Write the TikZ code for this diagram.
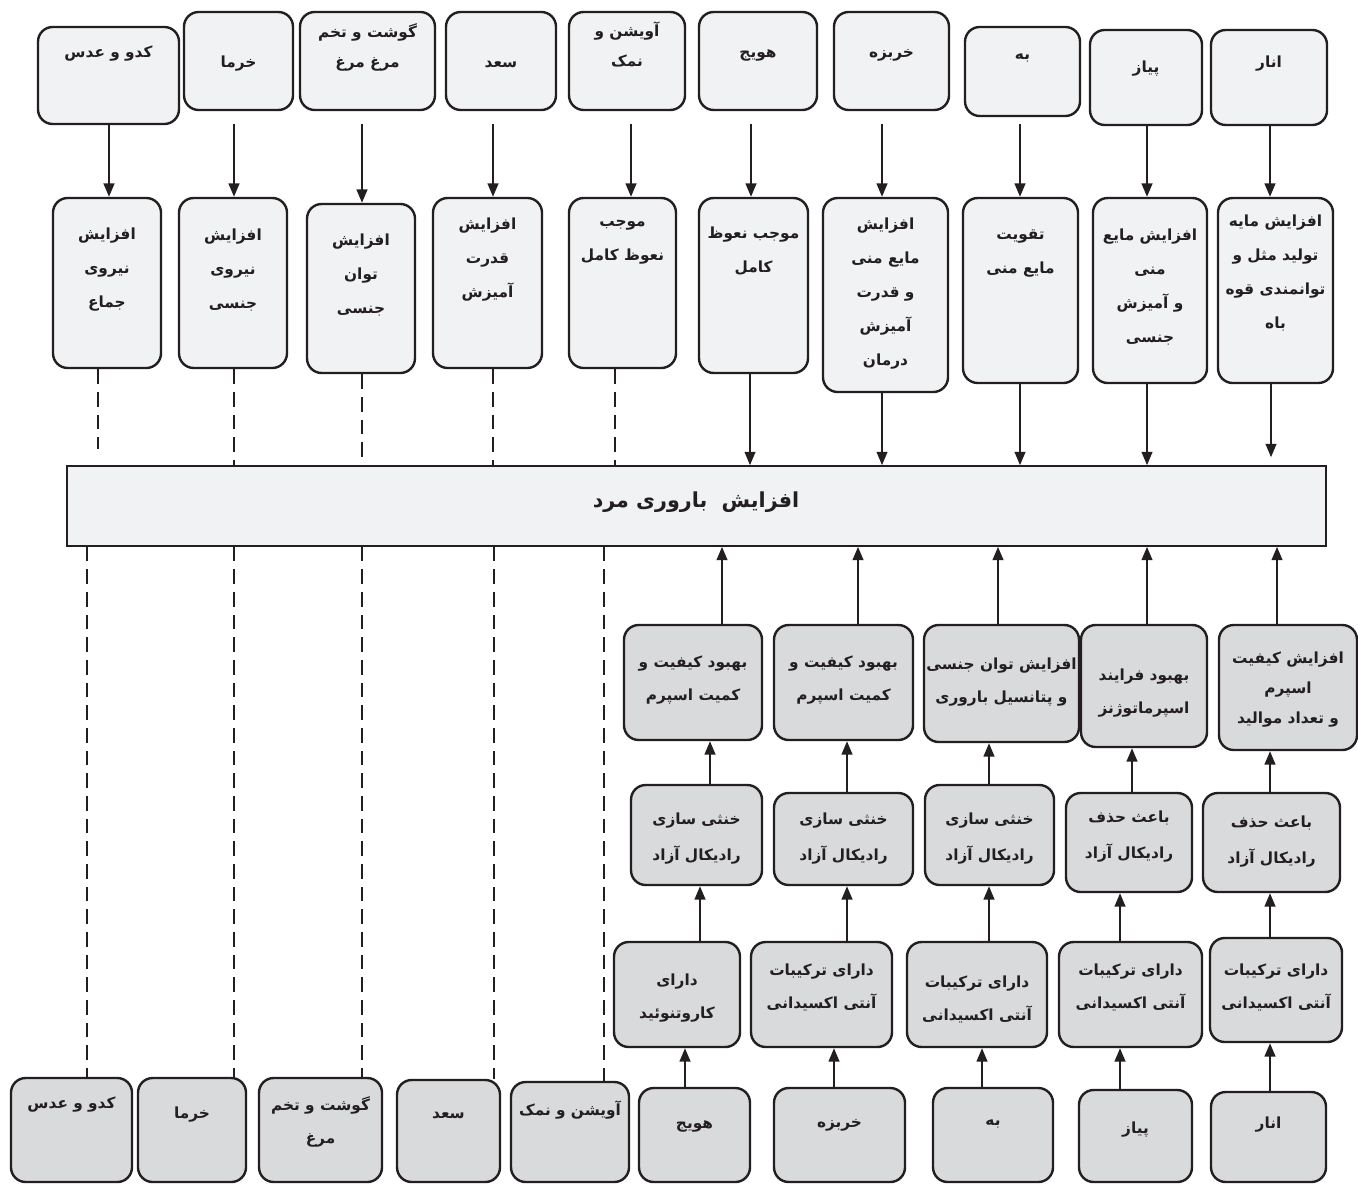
\documentclass[tikz,border=0pt]{standalone}
\usepackage{fontspec}
\newfontfamily\arabicfont[Script=Arabic]{DejaVu Sans}
\TeXXeTstate=1
\usetikzlibrary{arrows.meta,fit}
\newcommand\prs[1]{\beginR #1\endR}
\definecolor{boxlight}{HTML}{F1F2F4}
\definecolor{boxgray}{HTML}{D9DADC}
\definecolor{ink}{HTML}{231F20}
% #1 box style, #2 text style, #3 name, #4..#7 corners, #8 baseline y of last line, #9 text
\newcommand\bx[9]{%
  \node[#1, fit={(#4,#5) (#6,#7)}] (#3) {};
  \node[#2, anchor=base] (#3t) at (#3.center |- 0,#8) {#9};
}
\tikzset{
  basebox/.style={draw=ink, line width=1.8pt, rounded corners=11pt, inner sep=0pt},
  topbox/.style={basebox, fill=boxlight},
  lowbox/.style={basebox, fill=boxgray},
  bigbox/.style={draw=ink, line width=1.2pt, fill=boxlight, inner sep=0pt},
  txtbase/.style={inner sep=0pt, align=center, text=ink},
  txtT/.style={txtbase, font=\arabicfont\bfseries\fontsize{11.5pt}{22.5pt}\selectfont},
  txtM/.style={txtbase, font=\arabicfont\bfseries\fontsize{11.5pt}{25.5pt}\selectfont},
  txtL/.style={txtbase, font=\arabicfont\bfseries\fontsize{11.5pt}{24.75pt}\selectfont},
  txtR/.style={txtbase, font=\arabicfont\bfseries\fontsize{11.5pt}{27pt}\selectfont},
  txtS/.style={txtbase, font=\arabicfont\bfseries\fontsize{11.5pt}{22.5pt}\selectfont},
  txtBig/.style={txtbase, font=\arabicfont\bfseries\fontsize{15.5pt}{18pt}\selectfont},
  arr/.style={draw=ink, line width=1.5pt, -{Triangle[length=10pt,width=8pt]}},
  dsh/.style={draw=ink, line width=1.5pt, dash pattern=on 11pt off 6pt},
}
\begin{document}
\begin{tikzpicture}[x=0.75pt,y=-0.75pt]
\useasboundingbox (0,0) rectangle (1358,1184);
\clip (0,0) rectangle (1358,1184);
\fill[white] (0,0) rectangle (1358,1184);

% ---------- top row ----------
\bx{topbox}{txtT}{t1}{38}{27}{179}{124}{58}{\prs{کدو و عدس}}
\bx{topbox}{txtT}{t2}{184}{12}{293}{110}{68}{\prs{خرما}}
\bx{topbox}{txtT}{t3}{300}{12}{435}{110}{68}{\prs{گوشت و تخم}\\\prs{مرغ مرغ}}
\bx{topbox}{txtT}{t4}{446}{12}{556}{110}{68}{\prs{سعد}}
\bx{topbox}{txtT}{t5}{569}{12}{685}{110}{67}{\prs{آویشن و}\\\prs{نمک}}
\bx{topbox}{txtT}{t6}{699}{12}{817}{110}{58}{\prs{هویج}}
\bx{topbox}{txtT}{t7}{834}{12}{949}{110}{58}{\prs{خربزه}}
\bx{topbox}{txtT}{t8}{965}{27}{1080}{116}{60}{\prs{به}}
\bx{topbox}{txtT}{t9}{1090}{30}{1202}{125}{73}{\prs{پیاز}}
\bx{topbox}{txtT}{t10}{1211}{30}{1327}{125}{68}{\prs{انار}}

% ---------- middle row ----------
\bx{topbox}{txtM}{m1}{53}{198}{161}{368}{307}{\prs{افزایش}\\\prs{نیروی}\\\prs{جماع}}
\bx{topbox}{txtM}{m2}{179}{198}{287}{368}{308}{\prs{افزایش}\\\prs{نیروی}\\\prs{جنسی}}
\bx{topbox}{txtM}{m3}{307}{204}{415}{373}{313}{\prs{افزایش}\\\prs{توان}\\\prs{جنسی}}
\bx{topbox}{txtM}{m4}{433}{198}{542}{368}{297}{\prs{افزایش}\\\prs{قدرت}\\\prs{آمیزش}}
\bx{topbox}{txtM}{m5}{569}{198}{676}{368}{260}{\prs{موجب}\\\prs{نعوظ کامل}}
\bx{topbox}{txtM}{m6}{699}{198}{808}{373}{272}{\prs{موجب نعوظ}\\\prs{کامل}}
\bx{topbox}{txtM}{m7}{823}{198}{948}{392}{365}{\prs{افزایش}\\\prs{مایع منی}\\\prs{و قدرت}\\\prs{آمیزش}\\\prs{درمان}}
\bx{topbox}{txtM}{m8}{963}{198}{1078}{383}{273}{\prs{تقویت}\\\prs{مایع منی}}
\bx{topbox}{txtM}{m9}{1093}{198}{1207}{383}{342}{\prs{افزایش مایع}\\\prs{منی}\\\prs{و آمیزش}\\\prs{جنسی}}
\bx{topbox}{txtM}{m10}{1218}{198}{1333}{383}{328}{\prs{افزایش مایه}\\\prs{تولید مثل و}\\\prs{توانمندی قوه}\\\prs{باه}}

% ---------- big box ----------
\node[bigbox, fit={(67,466) (1326,546)}] (big) {};
\node[txtBig] (bigt) at (696,502) {\prs{افزایش\ \ باروری مرد}};

% ---------- lower rows ----------
\bx{lowbox}{txtL}{b1}{624}{625}{762}{740}{700}{\prs{بهبود کیفیت و}\\\prs{کمیت اسپرم}}
\bx{lowbox}{txtL}{b2}{774}{625}{913}{740}{700}{\prs{بهبود کیفیت و}\\\prs{کمیت اسپرم}}
\bx{lowbox}{txtL}{b3}{924}{625}{1079}{742}{702}{\prs{افزایش توان جنسی}\\\prs{و پتانسیل باروری}}
\bx{lowbox}{txtL}{b4}{1081}{625}{1207}{747}{713}{\prs{بهبود فرایند}\\\prs{اسپرماتوژنز}}
\bx{lowbox}{txtS}{b5}{1219}{625}{1357}{750}{723}{\prs{افزایش کیفیت}\\\prs{اسپرم}\\\prs{و تعداد موالید}}

\bx{lowbox}{txtR}{r1}{631}{785}{762}{885}{860}{\prs{خنثی سازی}\\\prs{رادیکال آزاد}}
\bx{lowbox}{txtR}{r2}{774}{793}{913}{885}{860}{\prs{خنثی سازی}\\\prs{رادیکال آزاد}}
\bx{lowbox}{txtR}{r3}{925}{785}{1054}{885}{860}{\prs{خنثی سازی}\\\prs{رادیکال آزاد}}
\bx{lowbox}{txtR}{r4}{1066}{793}{1192}{892}{858}{\prs{باعث حذف}\\\prs{رادیکال آزاد}}
\bx{lowbox}{txtR}{r5}{1203}{793}{1340}{892}{863}{\prs{باعث حذف}\\\prs{رادیکال آزاد}}

\bx{lowbox}{txtL}{d1}{614}{942}{740}{1047}{1018}{\prs{دارای}\\\prs{کاروتنوئید}}
\bx{lowbox}{txtL}{d2}{751}{942}{892}{1047}{1008}{\prs{دارای ترکیبات}\\\prs{آنتی اکسیدانی}}
\bx{lowbox}{txtL}{d3}{907}{942}{1047}{1047}{1020}{\prs{دارای ترکیبات}\\\prs{آنتی اکسیدانی}}
\bx{lowbox}{txtL}{d4}{1059}{942}{1202}{1047}{1008}{\prs{دارای ترکیبات}\\\prs{آنتی اکسیدانی}}
\bx{lowbox}{txtL}{d5}{1210}{938}{1342}{1042}{1008}{\prs{دارای ترکیبات}\\\prs{آنتی اکسیدانی}}

% ---------- bottom row ----------
\bx{lowbox}{txtL}{bb1}{11}{1078}{132}{1182}{1108}{\prs{کدو و عدس}}
\bx{lowbox}{txtL}{bb2}{138}{1078}{246}{1182}{1118}{\prs{خرما}}
\bx{lowbox}{txtL}{bb3}{259}{1078}{382}{1182}{1143}{\prs{گوشت و تخم}\\\prs{مرغ}}
\bx{lowbox}{txtL}{bb4}{397}{1080}{500}{1182}{1118}{\prs{سعد}}
\bx{lowbox}{txtL}{bb5}{511}{1082}{629}{1182}{1115}{\prs{آویشن و نمک}}
\bx{lowbox}{txtL}{bb6}{639}{1088}{750}{1182}{1128}{\prs{هویج}}
\bx{lowbox}{txtL}{bb7}{774}{1088}{905}{1182}{1127}{\prs{خربزه}}
\bx{lowbox}{txtL}{bb8}{933}{1088}{1053}{1182}{1125}{\prs{به}}
\bx{lowbox}{txtL}{bb9}{1079}{1090}{1192}{1182}{1133}{\prs{پیاز}}
\bx{lowbox}{txtL}{bb10}{1211}{1092}{1326}{1182}{1128}{\prs{انار}}

% ---------- connectors: top -> middle ----------
\draw[arr] (t1.south -| 109,0) -- (m1.north -| 109,0);
\draw[arr, shorten <=9.75pt] (t2.south -| 234,0) -- (m2.north -| 234,0);
\draw[arr, shorten <=9.75pt] (t3.south -| 362,0) -- (m3.north -| 362,0);
\draw[arr, shorten <=9.75pt] (t4.south -| 493,0) -- (m4.north -| 493,0);
\draw[arr, shorten <=9.75pt] (t5.south -| 631,0) -- (m5.north -| 631,0);
\draw[arr, shorten <=9.75pt] (t6.south -| 751,0) -- (m6.north -| 751,0);
\draw[arr, shorten <=9.75pt] (t7.south -| 882,0) -- (m7.north -| 882,0);
\draw[arr, shorten <=5pt] (t8.south -| 1020,0) -- (m8.north -| 1020,0);
\draw[arr] (t9.south -| 1147,0) -- (m9.north -| 1147,0);
\draw[arr] (t10.south -| 1270,0) -- (m10.north -| 1270,0);

% ---------- middle -> big ----------
\draw[dsh, shorten >=12pt] (m1.south -| 98,0) -- (big.north -| 98,0);
\draw[dsh] (m2.south -| 234,0) -- (big.north -| 234,0);
\draw[dsh, shorten >=4pt] (m3.south -| 362,0) -- (big.north -| 362,0);
\draw[dsh] (m4.south -| 493,0) -- (big.north -| 493,0);
\draw[dsh] (m5.south -| 615,0) -- (big.north -| 615,0);
\draw[arr] (m6.south -| 750,0) -- (big.north -| 750,0);
\draw[arr] (m7.south -| 882,0) -- (big.north -| 882,0);
\draw[arr] (m8.south -| 1020,0) -- (big.north -| 1020,0);
\draw[arr] (m9.south -| 1147,0) -- (big.north -| 1147,0);
\draw[arr, shorten >=6pt] (m10.south -| 1271,0) -- (big.north -| 1271,0);

% ---------- big -> bottom (dashed) ----------
\draw[dsh] (big.south -| 87,0) -- (bb1.north -| 87,0);
\draw[dsh] (big.south -| 234,0) -- (bb2.north -| 234,0);
\draw[dsh] (big.south -| 362,0) -- (bb3.north -| 362,0);
\draw[dsh] (big.south -| 494,0) -- (bb4.north -| 494,0);
\draw[dsh] (big.south -| 604,0) -- (bb5.north -| 604,0);

% ---------- lower chains (upwards) ----------
\draw[arr] (b1.north -| 722,0) -- (big.south -| 722,0);
\draw[arr] (b2.north -| 858,0) -- (big.south -| 858,0);
\draw[arr] (b3.north -| 998,0) -- (big.south -| 998,0);
\draw[arr] (b4.north -| 1147,0) -- (big.south -| 1147,0);
\draw[arr] (b5.north -| 1277,0) -- (big.south -| 1277,0);

\draw[arr] (r1.north -| 710,0) -- (b1.south -| 710,0);
\draw[arr] (r2.north -| 847,0) -- (b2.south -| 847,0);
\draw[arr] (r3.north -| 989,0) -- (b3.south -| 989,0);
\draw[arr] (r4.north -| 1132,0) -- (b4.south -| 1132,0);
\draw[arr] (r5.north -| 1270,0) -- (b5.south -| 1270,0);

\draw[arr] (d1.north -| 700,0) -- (r1.south -| 700,0);
\draw[arr] (d2.north -| 847,0) -- (r2.south -| 847,0);
\draw[arr] (d3.north -| 989,0) -- (r3.south -| 989,0);
\draw[arr] (d4.north -| 1120,0) -- (r4.south -| 1120,0);
\draw[arr] (d5.north -| 1270,0) -- (r5.south -| 1270,0);

\draw[arr] (bb6.north -| 685,0) -- (d1.south -| 685,0);
\draw[arr] (bb7.north -| 834,0) -- (d2.south -| 834,0);
\draw[arr] (bb8.north -| 982,0) -- (d3.south -| 982,0);
\draw[arr] (bb9.north -| 1120,0) -- (d4.south -| 1120,0);
\draw[arr] (bb10.north -| 1270,0) -- (d5.south -| 1270,0);
\end{tikzpicture}
\end{document}
